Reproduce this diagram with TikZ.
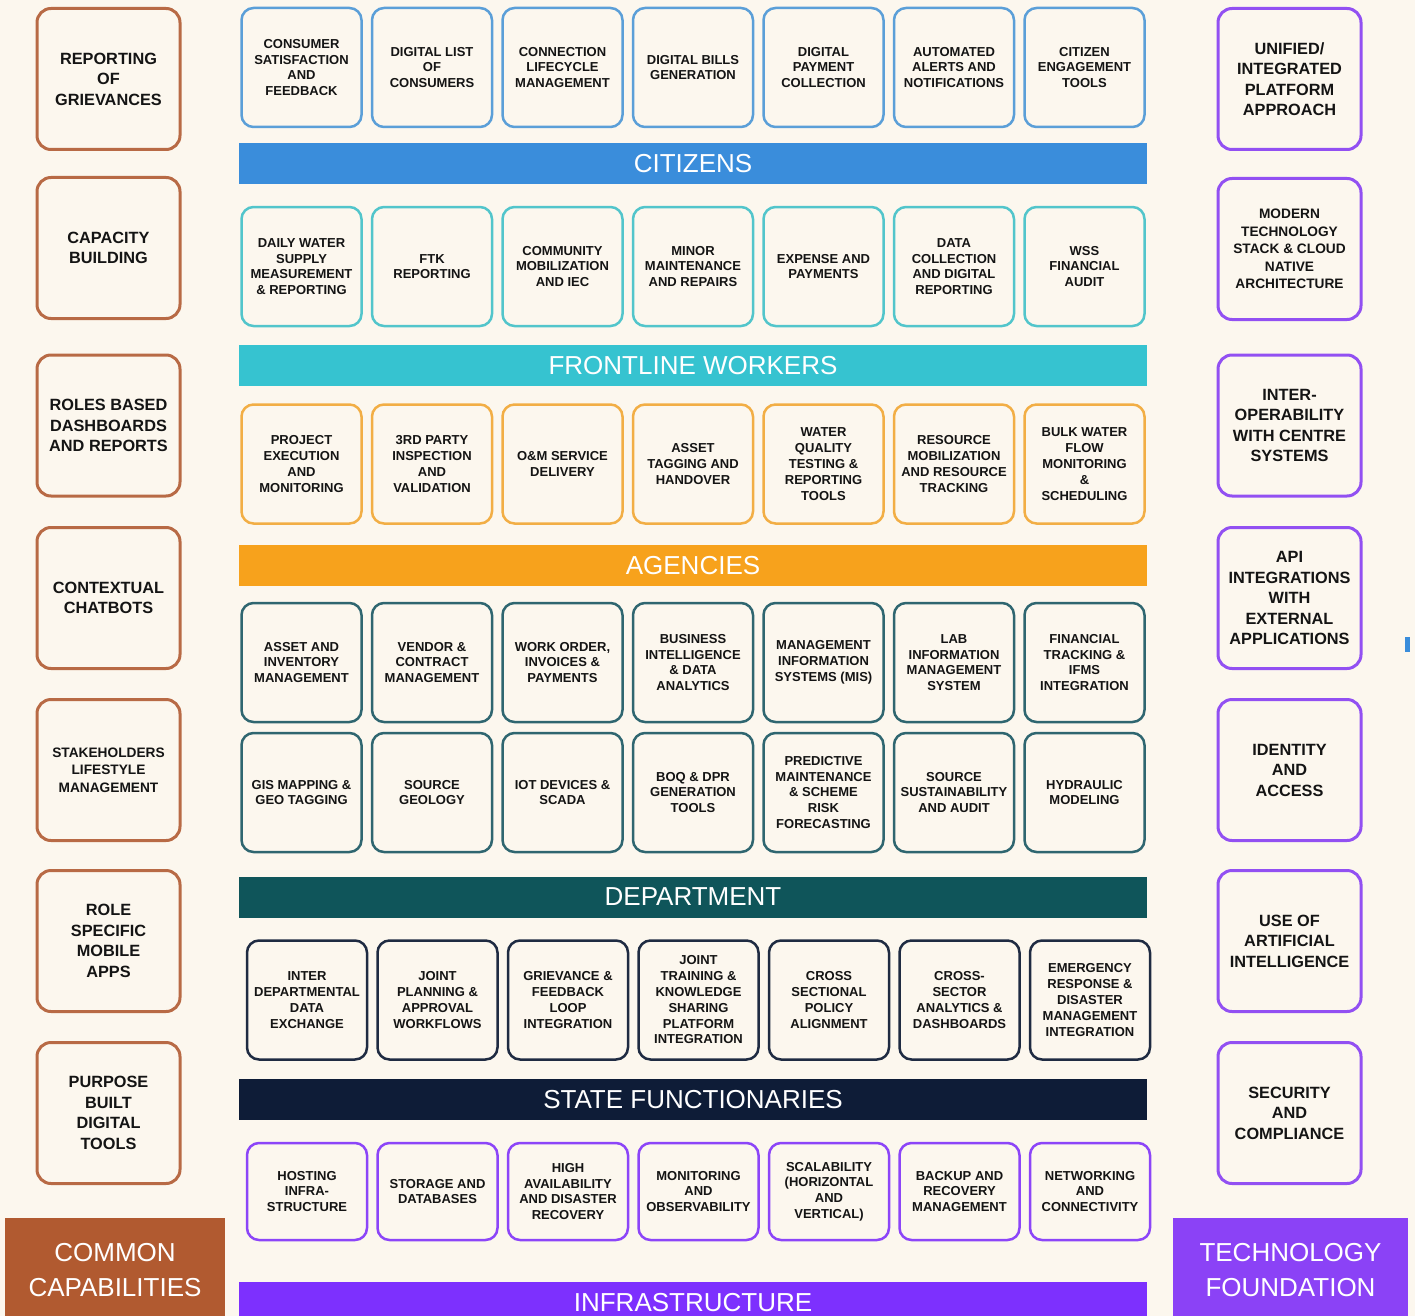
\documentclass[tikz,border=0pt]{standalone}
\usepackage{fontspec}
\setmainfont{Liberation Sans}
\definecolor{paper}{HTML}{FCF7EE}
\definecolor{ink}{HTML}{141414}
\definecolor{citblue}{HTML}{3A8DDB}
\definecolor{citline}{HTML}{5B9FD8}
\definecolor{fwcyan}{HTML}{36C3D0}
\definecolor{fwline}{HTML}{52C5CB}
\definecolor{agorange}{HTML}{F7A21C}
\definecolor{agline}{HTML}{F2AE45}
\definecolor{depteal}{HTML}{0F555A}
\definecolor{depline}{HTML}{2F6670}
\definecolor{statenavy}{HTML}{0E1C37}
\definecolor{stateline}{HTML}{1F2B42}
\definecolor{infpurple}{HTML}{7D30FE}
\definecolor{infline}{HTML}{8C45F8}
\definecolor{capbrown}{HTML}{B15A30}
\definecolor{capline}{HTML}{B86A45}
\definecolor{techpurple}{HTML}{8B42F6}
\definecolor{techline}{HTML}{9250F2}

\begin{document}
\begin{tikzpicture}[x=1pt, y=-1pt,
  cell/.style={draw=#1, line width=2.5pt, rounded corners=12pt, fill=paper,
    minimum width=120pt, minimum height=119pt, inner sep=0pt, align=center,
    text=ink, font=\fontsize{13}{15.8}\selectfont\bfseries},
  low/.style={minimum height=97pt},
  band/.style={fill=#1, minimum width=908pt, minimum height=41pt, inner sep=0pt,
    text=white, font=\fontsize{26}{30}\selectfont},
  side/.style={draw=#1, line width=3pt, rounded corners=14pt, fill=paper,
    minimum width=143pt, minimum height=141pt, inner sep=0pt, align=center,
    text=ink, font=\fontsize{16.3}{20.5}\selectfont\bfseries},
  small/.style={font=\fontsize{13.7}{17.5}\selectfont\bfseries},
  corner/.style={fill=#1, minimum height=104pt, inner sep=0pt, align=center,
    text=white, font=\fontsize{26}{35}\selectfont}]
\fill[paper] (0,0) rectangle (1415,1316);
\useasboundingbox (0,0) rectangle (1415,1316);

% left column
\node[side=capline] (l1) at (108.5,79) {REPORTING\\OF\\GRIEVANCES};
\node[side=capline] (l2) at (108.5,248) {CAPACITY\\BUILDING};
\node[side=capline] (l3) at (108.5,425.5) {ROLES BASED\\DASHBOARDS\\AND REPORTS};
\node[side=capline] (l4) at (108.5,598) {CONTEXTUAL\\CHATBOTS};
\node[side=capline, small] (l5) at (108.5,770) {STAKEHOLDERS\\LIFESTYLE\\MANAGEMENT};
\node[side=capline] (l6) at (108.5,941) {ROLE\\SPECIFIC\\MOBILE\\APPS};
\node[side=capline] (l7) at (108.5,1113) {PURPOSE\\BUILT\\DIGITAL\\TOOLS};
\node[corner=capbrown, minimum width=220pt] (common) at (115,1270) {COMMON\\CAPABILITIES};

% right column
\node[side=techline] (r1) at (1289.5,79) {UNIFIED/\\INTEGRATED\\PLATFORM\\APPROACH};
\node[side=techline, small] (r2) at (1289.5,249) {MODERN\\TECHNOLOGY\\STACK \& CLOUD\\NATIVE\\ARCHITECTURE};
\node[side=techline] (r3) at (1289.5,425.5) {INTER-\\OPERABILITY\\WITH CENTRE\\SYSTEMS};
\node[side=techline] (r4) at (1289.5,598) {API\\INTEGRATIONS\\WITH\\EXTERNAL\\APPLICATIONS};
\node[side=techline] (r5) at (1289.5,770) {IDENTITY\\AND\\ACCESS};
\node[side=techline] (r6) at (1289.5,941) {USE OF\\ARTIFICIAL\\INTELLIGENCE};
\node[side=techline] (r7) at (1289.5,1113) {SECURITY\\AND\\COMPLIANCE};
\node[corner=techpurple, minimum width=235pt] (tech) at (1290.5,1270) {TECHNOLOGY\\FOUNDATION};
\fill[citblue] (1405,637) rectangle (1410,652);

% citizens
\node[cell=citline] (c1) at (301.5,67.5) {CONSUMER\\SATISFACTION\\AND\\FEEDBACK};
\node[cell=citline] (c2) at (432,67.5) {DIGITAL LIST\\OF\\CONSUMERS};
\node[cell=citline] (c3) at (562.5,67.5) {CONNECTION\\LIFECYCLE\\MANAGEMENT};
\node[cell=citline] (c4) at (693,67.5) {DIGITAL BILLS\\GENERATION};
\node[cell=citline] (c5) at (823.5,67.5) {DIGITAL\\PAYMENT\\COLLECTION};
\node[cell=citline] (c6) at (954,67.5) {AUTOMATED\\ALERTS AND\\NOTIFICATIONS};
\node[cell=citline] (c7) at (1084.5,67.5) {CITIZEN\\ENGAGEMENT\\TOOLS};
\node[band=citblue] (citizens) at (693,163.5) {CITIZENS};

% frontline workers
\node[cell=fwline] (f1) at (301.5,266.5) {DAILY WATER\\SUPPLY\\MEASUREMENT\\\& REPORTING};
\node[cell=fwline] (f2) at (432,266.5) {FTK\\REPORTING};
\node[cell=fwline] (f3) at (562.5,266.5) {COMMUNITY\\MOBILIZATION\\AND IEC};
\node[cell=fwline] (f4) at (693,266.5) {MINOR\\MAINTENANCE\\AND REPAIRS};
\node[cell=fwline] (f5) at (823.5,266.5) {EXPENSE AND\\PAYMENTS};
\node[cell=fwline] (f6) at (954,266.5) {DATA\\COLLECTION\\AND DIGITAL\\REPORTING};
\node[cell=fwline] (f7) at (1084.5,266.5) {WSS\\FINANCIAL\\AUDIT};
\node[band=fwcyan] (frontline) at (693,365.5) {FRONTLINE WORKERS};

% agencies
\node[cell=agline] (a1) at (301.5,464) {PROJECT\\EXECUTION\\AND\\MONITORING};
\node[cell=agline] (a2) at (432,464) {3RD PARTY\\INSPECTION\\AND\\VALIDATION};
\node[cell=agline] (a3) at (562.5,464) {O\&M SERVICE\\DELIVERY};
\node[cell=agline] (a4) at (693,464) {ASSET\\TAGGING AND\\HANDOVER};
\node[cell=agline] (a5) at (823.5,464) {WATER\\QUALITY\\TESTING \&\\REPORTING\\TOOLS};
\node[cell=agline] (a6) at (954,464) {RESOURCE\\MOBILIZATION\\AND RESOURCE\\TRACKING};
\node[cell=agline] (a7) at (1084.5,464) {BULK WATER\\FLOW\\MONITORING\\\&\\SCHEDULING};
\node[band=agorange] (agencies) at (693,565.5) {AGENCIES};

% department
\node[cell=depline] (g1) at (301.5,662.5) {ASSET AND\\INVENTORY\\MANAGEMENT};
\node[cell=depline] (g2) at (432,662.5) {VENDOR \&\\CONTRACT\\MANAGEMENT};
\node[cell=depline] (g3) at (562.5,662.5) {WORK ORDER,\\INVOICES \&\\PAYMENTS};
\node[cell=depline] (g4) at (693,662.5) {BUSINESS\\INTELLIGENCE\\\& DATA\\ANALYTICS};
\node[cell=depline] (g5) at (823.5,662.5) {MANAGEMENT\\INFORMATION\\SYSTEMS (MIS)};
\node[cell=depline] (g6) at (954,662.5) {LAB\\INFORMATION\\MANAGEMENT\\SYSTEM};
\node[cell=depline] (g7) at (1084.5,662.5) {FINANCIAL\\TRACKING \&\\IFMS\\INTEGRATION};
\node[cell=depline] (h1) at (301.5,792.5) {GIS MAPPING \&\\GEO TAGGING};
\node[cell=depline] (h2) at (432,792.5) {SOURCE\\GEOLOGY};
\node[cell=depline] (h3) at (562.5,792.5) {IOT DEVICES \&\\SCADA};
\node[cell=depline] (h4) at (693,792.5) {BOQ \& DPR\\GENERATION\\TOOLS};
\node[cell=depline] (h5) at (823.5,792.5) {PREDICTIVE\\MAINTENANCE\\\& SCHEME\\RISK\\FORECASTING};
\node[cell=depline] (h6) at (954,792.5) {SOURCE\\SUSTAINABILITY\\AND AUDIT};
\node[cell=depline] (h7) at (1084.5,792.5) {HYDRAULIC\\MODELING};
\node[band=depteal] (department) at (693,897) {DEPARTMENT};

% state functionaries
\node[cell=stateline] (s1) at (307,1000) {INTER\\DEPARTMENTAL\\DATA\\EXCHANGE};
\node[cell=stateline] (s2) at (437.5,1000) {JOINT\\PLANNING \&\\APPROVAL\\WORKFLOWS};
\node[cell=stateline] (s3) at (568,1000) {GRIEVANCE \&\\FEEDBACK\\LOOP\\INTEGRATION};
\node[cell=stateline] (s4) at (698.5,1000) {JOINT\\TRAINING \&\\KNOWLEDGE\\SHARING\\PLATFORM\\INTEGRATION};
\node[cell=stateline] (s5) at (829,1000) {CROSS\\SECTIONAL\\POLICY\\ALIGNMENT};
\node[cell=stateline] (s6) at (959.5,1000) {CROSS-\\SECTOR\\ANALYTICS \&\\DASHBOARDS};
\node[cell=stateline] (s7) at (1090,1000) {EMERGENCY\\RESPONSE \&\\DISASTER\\MANAGEMENT\\INTEGRATION};
\node[band=statenavy] (state) at (693,1099.5) {STATE FUNCTIONARIES};

% infrastructure
\node[cell=infline, low] (i1) at (307,1191.5) {HOSTING\\INFRA-\\STRUCTURE};
\node[cell=infline, low] (i2) at (437.5,1191.5) {STORAGE AND\\DATABASES};
\node[cell=infline, low] (i3) at (568,1191.5) {HIGH\\AVAILABILITY\\AND DISASTER\\RECOVERY};
\node[cell=infline, low] (i4) at (698.5,1191.5) {MONITORING\\AND\\OBSERVABILITY};
\node[cell=infline, low] (i5) at (829,1191.5) {SCALABILITY\\(HORIZONTAL\\AND\\VERTICAL)};
\node[cell=infline, low] (i6) at (959.5,1191.5) {BACKUP AND\\RECOVERY\\MANAGEMENT};
\node[cell=infline, low] (i7) at (1090,1191.5) {NETWORKING\\AND\\CONNECTIVITY};
\node[band=infpurple] (infra) at (693,1302.5) {INFRASTRUCTURE};
\end{tikzpicture}
\end{document}
